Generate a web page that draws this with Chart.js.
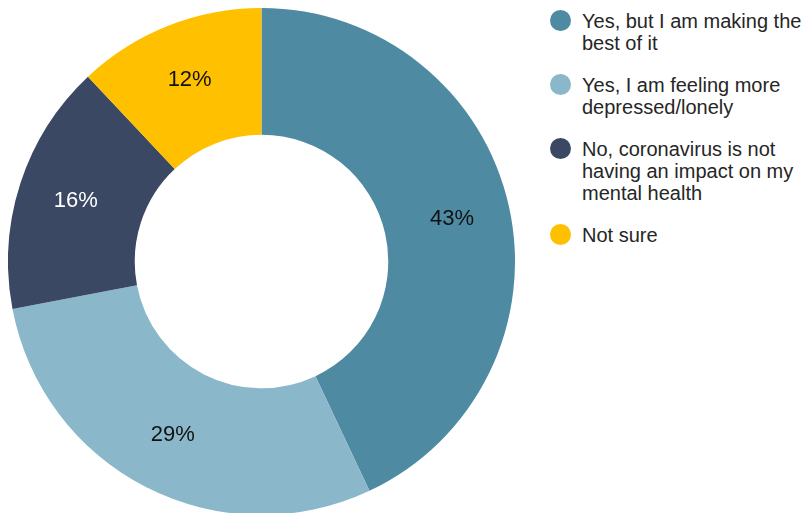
<!DOCTYPE html>
<html>
<head>
<meta charset="utf-8">
<script src="https://cdn.jsdelivr.net/npm/chart.js@4/dist/chart.umd.min.js"></script>
<style>
    html, body {
        margin: 0;
        padding: 0;
        width: 807px;
        height: 513px;
        overflow: hidden;
        background: #ffffff;
        font-family: "Liberation Sans", Arial, sans-serif;
    }
    #chart-wrap {
        position: absolute;
        left: 8px;
        top: 8px;
        width: 507px;
        height: 507px;
    }
    #legend {
        position: absolute;
        left: 550px;
        top: 10px;
        width: 257px;
        color: #262626;
        font-size: 20px;
        line-height: 22px;
    }
    .legend-item {
        position: relative;
        padding-left: 32px;
        margin-bottom: 20px;
    }
    .legend-dot {
        position: absolute;
        left: 0;
        top: 0;
        width: 21px;
        height: 21px;
        border-radius: 50%;
    }
</style>
</head>
<body>
<div id="chart-wrap"><canvas id="grafico"></canvas></div>
<div id="legend"></div>
<script>
const categorias = [
    ['Yes, but I am making the', 'best of it'],
    ['Yes, I am feeling more', 'depressed/lonely'],
    ['No, coronavirus is not', 'having an impact on my', 'mental health'],
    ['Not sure']
];
const valores = [43, 29, 16, 12];
const cores = ['#4f8aa3', '#8ab7ca', '#3b4863', '#ffc000'];
const coresTexto = ['#111111', '#111111', '#ffffff', '#111111'];

(function () {
    const canvas = document.getElementById('grafico');

    if (!canvas || typeof Chart === 'undefined') {
        return;
    }

    // rotulos de percentagem dentro de cada fatia
    const rotulosFatias = {
        id: 'rotulosFatias',
        afterDatasetsDraw: function (chart) {
            const ctx = chart.ctx;
            const meta = chart.getDatasetMeta(0);

            ctx.save();
            ctx.font = '22px "Liberation Sans", Arial, sans-serif';
            ctx.textAlign = 'center';
            ctx.textBaseline = 'middle';

            meta.data.forEach(function (arco, i) {
                const angulo = (arco.startAngle + arco.endAngle) / 2;
                const raio = arco.innerRadius + (arco.outerRadius - arco.innerRadius) * 0.54;
                ctx.fillStyle = coresTexto[i];
                ctx.fillText(valores[i] + '%', arco.x + Math.cos(angulo) * raio, arco.y + Math.sin(angulo) * raio);
            });

            ctx.restore();
        }
    };

    new Chart(canvas, {
        type: 'doughnut',
        data: {
            labels: categorias,
            datasets: [{
                data: valores,
                backgroundColor: cores,
                borderWidth: 0
            }]
        },
        options: {
            responsive: true,
            maintainAspectRatio: false,
            animation: false,
            cutout: '50%',
            layout: { padding: 0 },
            plugins: {
                legend: { display: false },
                tooltip: { enabled: false }
            }
        },
        plugins: [rotulosFatias]
    });

    const legenda = document.getElementById('legend');

    categorias.forEach(function (linhas, i) {
        const item = document.createElement('div');
        const ponto = document.createElement('span');

        item.className = 'legend-item';
        ponto.className = 'legend-dot';
        ponto.style.background = cores[i];
        item.appendChild(ponto);

        linhas.forEach(function (linha) {
            const texto = document.createElement('div');
            texto.textContent = linha;
            item.appendChild(texto);
        });

        legenda.appendChild(item);
    });
})();
</script>
</body>
</html>
